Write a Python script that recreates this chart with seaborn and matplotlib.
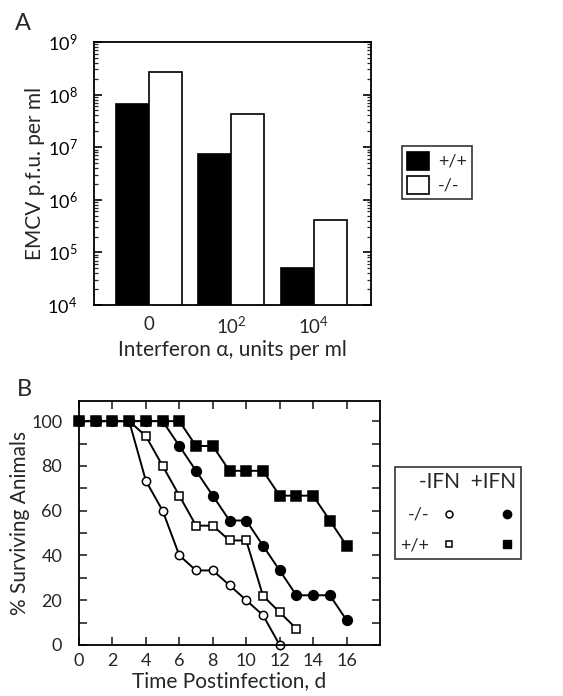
import numpy as np
import pandas as pd
import matplotlib
matplotlib.use("Agg")
import matplotlib.pyplot as plt
from matplotlib.lines import Line2D
from matplotlib.ticker import LogLocator, MultipleLocator, NullFormatter
import seaborn as sns

# panel A data: virus yield
ifn_doses = ["0", "10^2", "10^4"]
dose_labels = ["0", "$10^2$", "$10^4$"]
pfu_wt = [6.5e7, 7.5e6, 5.1e4]   # +/+
pfu_ko = [2.65e8, 4.3e7, 4.2e5]  # -/-

# panel B data: survival curves
days = list(range(0, 17))
surv_ko_noifn = [100, 100, 100, 100, 73.3, 60, 40, 33.3, 33.3, 26.7, 20, 13.3, 0]
surv_wt_noifn = [100, 100, 100, 100, 93.3, 80, 66.7, 53.3, 53.3, 46.7, 46.7, 22, 14.6, 7.3]
surv_ko_ifn = [100, 100, 100, 100, 100, 100, 88.9, 77.8, 66.7, 55.6, 55.6, 44.4, 33.3, 22.2, 22.2, 22.2, 11.1]
surv_wt_ifn = [100, 100, 100, 100, 100, 100, 100, 88.9, 88.9, 77.8, 77.8, 77.8, 66.7, 66.7, 66.7, 55.6, 44.4]

sns.set_style("ticks")
plt.rcParams['font.family'] = ['Lato', 'DejaVu Sans']
plt.rcParams['mathtext.fontset'] = 'custom'
plt.rcParams['mathtext.rm'] = 'Lato'
plt.rcParams['mathtext.it'] = 'Lato'
plt.rcParams['axes.linewidth'] = 1.3
plt.rcParams['axes.edgecolor'] = 'black'

fig = plt.figure(figsize=(5.63, 6.96), dpi=100)

# ---------- panel A ----------
axA = fig.add_axes([0.167, 0.5618, 0.492, 0.378])
dfA = pd.DataFrame({
    'dose': ifn_doses * 2,
    'pfu': pfu_wt + pfu_ko,
    'genotype': ['+/+'] * 3 + ['-/-'] * 3,
})
sns.barplot(data=dfA, x='dose', y='pfu', hue='genotype', order=ifn_doses,
            hue_order=['+/+', '-/-'], palette={'+/+': 'black', '-/-': 'white'},
            edgecolor='black', linewidth=1.2, width=0.8, ax=axA)
axA.set_yscale('log')
axA.set_ylim(1e4, 1e9)
axA.set_xlim(-0.66, 2.69)
axA.yaxis.set_major_locator(LogLocator(base=10, numticks=10))
axA.yaxis.set_minor_locator(LogLocator(base=10, subs=np.arange(2, 10), numticks=20))
axA.yaxis.set_minor_formatter(NullFormatter())
axA.tick_params(axis='y', which='major', direction='in', length=6, width=1.2,
                left=True, right=True, labelsize=13, colors='black', pad=12)
axA.tick_params(axis='y', which='minor', direction='in', length=3, width=0.9,
                left=True, right=True)
axA.tick_params(axis='x', length=0, labelsize=13.5, pad=8)
axA.set_xticks(range(3))
axA.set_xticklabels(dose_labels)
axA.set_xlabel('Interferon α, units per ml', fontsize=15, labelpad=2)
axA.set_ylabel('EMCV p.f.u. per ml', fontsize=15, labelpad=2)
for s in axA.spines.values():
    s.set_visible(True)
sns.move_legend(axA, 'upper left', bbox_to_anchor=(0.714, 0.790),
                bbox_transform=fig.transFigure, title=None, frameon=True,
                fancybox=False, edgecolor='black', fontsize=13,
                handlelength=1.2, handleheight=1.2, borderpad=0.3,
                labelspacing=0.3, handletextpad=0.5, borderaxespad=0)
axA.get_legend().get_frame().set_linewidth(1.2)
fig.text(0.027, 0.957, 'A', fontsize=17)

# ---------- panel B ----------
axB = fig.add_axes([0.1403, 0.0733, 0.5347, 0.3506])
series = [
    (surv_ko_noifn, 'o', 'white', 6),
    (surv_wt_noifn, 's', 'white', 6),
    (surv_ko_ifn, 'o', 'black', 7),
    (surv_wt_ifn, 's', 'black', 7),
]
for vals, mk, fc, ms in series:
    sns.lineplot(x=days[:len(vals)], y=vals, ax=axB, color='black', linewidth=1.4,
                 marker=mk, markersize=ms, markerfacecolor=fc,
                 markeredgecolor='black', markeredgewidth=1.1, clip_on=False)
axB.set_xlim(0, 18)
axB.set_ylim(0, 109)
axB.set_xticks(range(0, 17, 2))
axB.yaxis.set_major_locator(MultipleLocator(20))
axB.yaxis.set_minor_locator(MultipleLocator(10))
axB.tick_params(axis='both', which='major', direction='in', length=6, width=1.2,
                left=True, right=True, top=True, bottom=True, labelsize=13)
axB.tick_params(axis='y', which='major', pad=12)
axB.tick_params(axis='x', which='major', pad=6)
axB.tick_params(axis='y', which='minor', direction='in', length=6, width=1.2,
                left=True, right=True)
axB.set_xlabel('Time Postinfection, d', fontsize=15, labelpad=1)
axB.set_ylabel('% Surviving Animals', fontsize=15, labelpad=1)
for s in axB.spines.values():
    s.set_visible(True)

handles = [
    Line2D([], [], linestyle='none', marker='o', markersize=5, markerfacecolor='white', markeredgecolor='black', markeredgewidth=1.1),
    Line2D([], [], linestyle='none', marker='s', markersize=5, markerfacecolor='white', markeredgecolor='black', markeredgewidth=1.1),
    Line2D([], [], linestyle='none', marker='o', markersize=6, markerfacecolor='black', markeredgecolor='black'),
    Line2D([], [], linestyle='none', marker='s', markersize=6, markerfacecolor='black', markeredgecolor='black'),
]
legB = fig.legend(handles, ['-/-', '+/+', '', ''], ncol=2, markerfirst=False,
                  title='-IFN  +IFN', title_fontsize=15, fontsize=13,
                  loc='upper left', bbox_to_anchor=(0.7016, 0.329),
                  frameon=True, fancybox=False, edgecolor='black',
                  handlelength=1.0, handletextpad=0.6, columnspacing=1.6,
                  borderpad=0.3, labelspacing=0.8, alignment='right',
                  borderaxespad=0)
legB.get_frame().set_linewidth(1.2)
fig.text(0.03, 0.431, 'B', fontsize=17)

fig.savefig('out.png', dpi=100)
